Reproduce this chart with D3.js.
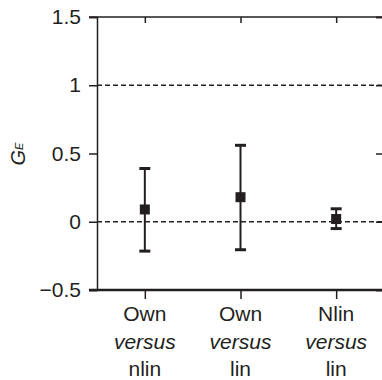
<!DOCTYPE html>
<html>
<head>
<meta charset="utf-8">
<script src="https://cdn.jsdelivr.net/npm/d3@7"></script>
<style>
  body { margin: 0; background: #fff; }
  text { font-family: "Liberation Sans", Arial, sans-serif; fill: #231f20; }
</style>
</head>
<body>
<div id="chart"><svg width="382" height="380"></svg></div>
<script>
// data
var categories = ["Own|versus|nlin", "Own|versus|lin", "Nlin|versus|lin"];
var means = [0.09, 0.18, 0.02];
var upper = [0.39, 0.56, 0.095];
var lower = [-0.215, -0.205, -0.05];
var yTicks = [-0.5, 0, 0.5, 1, 1.5];
var refLines = [0, 1];

var svg = d3.select("#chart").select("svg");
var ink = "#231f20";

var margin = { left: 97, right: -2, top: 17, bottom: 90 };
var width = +svg.attr("width"),
    height = +svg.attr("height");

var x = d3.scalePoint()
    .domain(categories)
    .range([margin.left, width - margin.right])
    .padding(0.5);

var y = d3.scaleLinear()
    .domain([-0.5, 1.5])
    .range([height - margin.bottom, margin.top]);

// dashed reference lines
svg.append("g")
    .selectAll("line")
    .data(refLines)
    .enter()
    .append("line")
    .attr("x1", margin.left)
    .attr("x2", width)
    .attr("y1", function(d) { return y(d); })
    .attr("y2", function(d) { return y(d); })
    .attr("stroke", ink)
    .attr("stroke-width", 1.5)
    .attr("stroke-dasharray", "5,3");

// left axis
var yAxis = svg.append("g")
    .attr("transform", "translate(" + margin.left + ",0)")
    .call(d3.axisLeft(y).tickValues(yTicks).tickSize(8).tickPadding(8)
        .tickFormat(function(d) { return d < 0 ? "\u2212" + Math.abs(d) : d; }));
yAxis.select(".domain").attr("stroke-width", 1.5).attr("stroke", ink);
yAxis.selectAll(".tick line").attr("stroke-width", 1.5).attr("stroke", ink);
yAxis.selectAll(".tick text")
    .style("font-size", "21px")
    .attr("fill", ink);

// right axis (mostly outside the picture, ticks inward)
var yRight = svg.append("g")
    .attr("transform", "translate(" + (width - margin.right) + ",0)")
    .call(d3.axisRight(y).tickValues(yTicks).tickSize(-8).tickFormat(""));
yRight.select(".domain").attr("stroke-width", 1.5).attr("stroke", ink);
yRight.selectAll(".tick line").attr("stroke-width", 1.5).attr("stroke", ink);

// top axis
var xTop = svg.append("g")
    .attr("transform", "translate(0," + margin.top + ")")
    .call(d3.axisBottom(x).tickSize(6).tickFormat(""));
xTop.select(".domain").attr("stroke-width", 1.5).attr("stroke", ink)
    .attr("d", "M" + (margin.left - 8) + ",0H" + (width + 10));
xTop.selectAll(".tick line").attr("stroke-width", 1.5).attr("stroke", ink);

// bottom axis
var xAxis = svg.append("g")
    .attr("transform", "translate(0," + (height - margin.bottom) + ")")
    .call(d3.axisBottom(x).tickSize(9).tickFormat(""));
xAxis.select(".domain").attr("stroke-width", 2.5).attr("stroke", ink)
    .attr("d", "M" + (margin.left - 8) + ",0H" + (width + 10));
xAxis.selectAll(".tick line").attr("stroke-width", 1.5).attr("stroke", ink);

// category labels, three lines each, middle line italic
var labels = svg.append("g")
    .selectAll("text")
    .data(categories)
    .enter()
    .append("text")
    .attr("text-anchor", "middle")
    .style("font-size", "21px")
    .attr("transform", function(d) { return "translate(" + x(d) + "," + (height - margin.bottom + 31) + ")"; });
labels.selectAll("tspan")
    .data(function(d) { return d.split("|"); })
    .enter()
    .append("tspan")
    .attr("x", 0)
    .attr("y", function(d, i) { return i * 27.5; })
    .style("font-style", function(d, i) { return i === 1 ? "italic" : "normal"; })
    .text(function(d) { return d; });

// error bars
var points = categories.map(function(c, i) {
    return { cat: c, mean: means[i], hi: upper[i], lo: lower[i] };
});
var bars = svg.append("g")
    .selectAll("g")
    .data(points)
    .enter()
    .append("g");

bars.append("line")
    .attr("x1", function(d) { return x(d.cat); })
    .attr("x2", function(d) { return x(d.cat); })
    .attr("y1", function(d) { return y(d.hi); })
    .attr("y2", function(d) { return y(d.lo); })
    .attr("stroke", ink)
    .attr("stroke-width", 2);

[["hi"], ["lo"]].forEach(function(k) {
    bars.append("line")
        .attr("x1", function(d) { return x(d.cat) - 5.5; })
        .attr("x2", function(d) { return x(d.cat) + 5.5; })
        .attr("y1", function(d) { return y(d[k[0]]); })
        .attr("y2", function(d) { return y(d[k[0]]); })
        .attr("stroke", ink)
        .attr("stroke-width", 3);
});

bars.append("rect")
    .attr("x", function(d) { return x(d.cat) - 5; })
    .attr("y", function(d) { return y(d.mean) - 5; })
    .attr("width", 10)
    .attr("height", 10)
    .attr("fill", ink);

// y axis title G_E
var yTitle = svg.append("text")
    .attr("transform", "translate(25,154) rotate(-90)")
    .attr("text-anchor", "middle")
    .style("font-style", "italic")
    .style("font-size", "20px");
yTitle.append("tspan").text("G");
yTitle.append("tspan").attr("dy", -2).style("font-size", "11px").text("E");
</script>
</body>
</html>
